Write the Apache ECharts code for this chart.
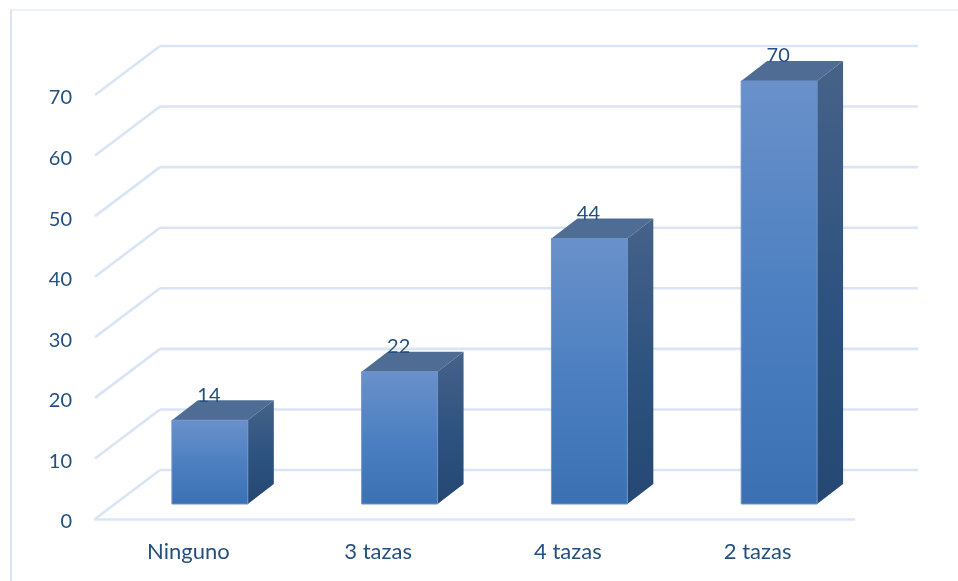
<!DOCTYPE html>
<html>
<head>
<meta charset="utf-8">
<style>html,body{margin:0;padding:0;background:#fff}#c{width:958px;height:581px}</style>
<script src="https://cdn.jsdelivr.net/npm/echarts@6/dist/echarts.min.js"></script>
</head>
<body>
<div id="c"></div>
<script>
const categories = ['Ninguno', '3 tazas', '4 tazas', '2 tazas'];
const values = [14, 22, 44, 70];
const yTicks = [0, 10, 20, 30, 40, 50, 60, 70];

const TEXT = '#24507f', GRID = '#d9e5f5', FONT = 'Lato, "Open Sans", sans-serif';
const WALL_DX = 65, WALL_DY = 49;
const BAR_DX = 20, BAR_DY = 14, SIDE_DX = 26, SIDE_DY = 20;
const G = echarts.graphic.LinearGradient;

const chart = echarts.init(document.getElementById('c'), null, {renderer: 'canvas'});

function renderWall(params, api) {
  const cs = params.coordSys;
  const y = api.coord([0, api.value(0)])[1];
  const x0 = cs.x, x1 = cs.x + cs.width;
  const style = {stroke: GRID, lineWidth: 2.6, fill: null};
  const children = [
    {type: 'line', shape: {x1: x0, y1: y, x2: x0 + WALL_DX, y2: y - WALL_DY}, style},
    {type: 'line', shape: {x1: x0 + WALL_DX, y1: y - WALL_DY, x2: x1 + WALL_DX - 1, y2: y - WALL_DY}, style}
  ];
  return {type: 'group', children};
}

function renderBar(params, api) {
  const top = api.coord([api.value(0), api.value(1)]);
  const zero = api.coord([api.value(0), 0]);
  const half = api.size([1, 0])[0] * 0.4 / 2;
  const l = top[0] + BAR_DX - half, r = top[0] + BAR_DX + half;
  const t = top[1] - BAR_DY, b = zero[1] - BAR_DY - 1;
  const front = new G(0, 0, 0, 1, [
    {offset: 0, color: '#6a91ca'}, {offset: 0.55, color: '#4a7ec0'}, {offset: 1, color: '#3b71b3'}
  ]);
  const side = new G(0, 0, 0, 1, [
    {offset: 0, color: '#466289'}, {offset: 0.55, color: '#2c527f'}, {offset: 1, color: '#254873'}
  ]);
  return {type: 'group', children: [
    {type: 'polygon', shape: {points: [[l, t], [r, t], [r + SIDE_DX, t - SIDE_DY], [l + SIDE_DX, t - SIDE_DY]]},
      style: {fill: '#4f6c95'}},
    {type: 'polygon', shape: {points: [[r, t], [r + SIDE_DX, t - SIDE_DY], [r + SIDE_DX, b - SIDE_DY], [r, b]]},
      style: {fill: side}},
    {type: 'rect', shape: {x: l, y: t, width: r - l, height: b - t},
      style: {fill: front, stroke: '#6d92c8', lineWidth: 1}},
    {type: 'text', x: (l + r) / 2 - 1, y: t - 25,
      style: {text: String(values[params.dataIndex]), fill: TEXT, font: '20px ' + FONT, align: 'center', verticalAlign: 'middle'}}
  ]};
}

chart.setOption({
  animation: false,
  backgroundColor: '#fff',
  grid: {left: 95, right: 104, top: 95, bottom: 62, containLabel: false},
  graphic: [
    {type: 'line', shape: {x1: 11, y1: 10, x2: 958, y2: 10}, style: {stroke: GRID, lineWidth: 1}, silent: true},
    {type: 'line', shape: {x1: 11, y1: 10, x2: 11, y2: 581}, style: {stroke: GRID, lineWidth: 2}, silent: true}
  ],
  xAxis: {
    type: 'category', data: categories,
    axisTick: {show: false},
    axisLine: {show: true, lineStyle: {color: GRID, width: 2.6}},
    axisLabel: {color: TEXT, fontFamily: FONT, fontSize: 22, margin: 22, padding: [0, 3, 0, 0]}
  },
  yAxis: {
    type: 'value', min: 0, max: 70, interval: 10,
    axisLine: {show: false}, axisTick: {show: false}, splitLine: {show: false},
    axisLabel: {color: TEXT, fontFamily: FONT, fontSize: 20, margin: 23, verticalAlign: 'top', lineHeight: 6}
  },
  series: [
    {type: 'custom', coordinateSystem: 'cartesian2d', renderItem: renderWall, silent: true, z: 1,
      encode: {y: 0}, data: yTicks.map(v => [v])},
    {type: 'custom', coordinateSystem: 'cartesian2d', renderItem: renderBar, silent: true, z: 3,
      encode: {x: 0, y: 1}, data: categories.map((c, i) => [i, values[i]])}
  ]
});
</script>
</body>
</html>
